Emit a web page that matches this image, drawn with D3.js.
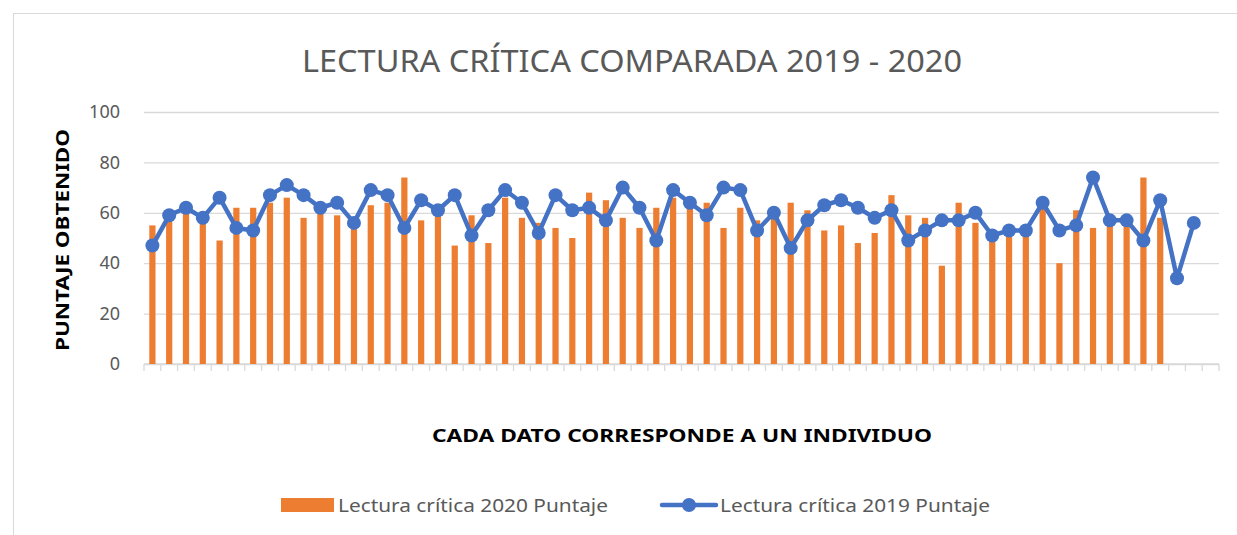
<!DOCTYPE html>
<html>
<head>
<meta charset="utf-8">
<script src="https://cdn.jsdelivr.net/npm/d3@7"></script>
<style>
  body { margin: 0; background: #fff; }
  text { font-family: 'Noto Sans', 'Open Sans', sans-serif; }
</style>
</head>
<body>
<div id="chart"></div>
<script>
// one category per individual
const individuos = [1, 2, 3, 4, 5, 6, 7, 8, 9, 10, 11, 12, 13, 14, 15, 16, 17, 18, 19, 20,
  21, 22, 23, 24, 25, 26, 27, 28, 29, 30, 31, 32, 33, 34, 35, 36, 37, 38, 39, 40,
  41, 42, 43, 44, 45, 46, 47, 48, 49, 50, 51, 52, 53, 54, 55, 56, 57, 58, 59, 60,
  61, 62, 63, 64];

// Lectura crítica 2020 Puntaje (bars)
const puntaje2020 = [55, 57, 60, 56, 49, 62, 62, 64, 66, 58,
  63, 59, 55, 63, 64, 74, 57, 60, 47, 59,
  48, 66, 58, 56, 54, 50, 68, 65, 58, 54,
  62, 66, 62, 64, 54, 62, 57, 58, 64, 61,
  53, 55, 48, 52, 67, 59, 58, 39, 64, 56,
  50, 51, 51, 62, 40, 61, 54, 56, 57, 74,
  58, null, null, null];

// Lectura crítica 2019 Puntaje (line)
const puntaje2019 = [47, 59, 62, 58, 66, 54, 53, 67, 71, 67,
  62, 64, 56, 69, 67, 54, 65, 61, 67, 51,
  61, 69, 64, 52, 67, 61, 62, 57, 70, 62,
  49, 69, 64, 59, 70, 69, 53, 60, 46, 57,
  63, 65, 62, 58, 61, 49, 53, 57, 57, 60,
  51, 53, 53, 64, 53, 55, 74, 57, 57, 49,
  65, 34, 56, null];

const yTicks = [0, 20, 40, 60, 80, 100];

const W = 1237, H = 535;
const plot = { left: 144, right: 1219, top: 112, bottom: 364 };
const orange = '#ED7D31', blue = '#4472C4', grid = '#D9D9D9', txt = '#595959';

const svg = d3.select('#chart').append('svg')
  .attr('width', W)
  .attr('height', H);

// chart area border
svg.append('rect')
  .attr('x', 13.5).attr('y', 13.5)
  .attr('width', W).attr('height', H)
  .attr('fill', 'none')
  .attr('stroke', grid);

const x = d3.scaleBand().domain(individuos).range([plot.left, plot.right]).padding(0);
const y = d3.scaleLinear().domain([0, 100]).range([plot.bottom, plot.top]);

// gridlines + y labels
const yAxis = svg.append('g')
  .attr('transform', `translate(${plot.left},0)`)
  .call(d3.axisLeft(y).tickValues(yTicks).tickSize(0).tickPadding(24))
  .call(g => g.select('.domain').remove())
  .call(g => g.selectAll('.tick text')
    .attr('fill', txt)
    .attr('font-size', 18)
    .attr('font-family', "'Noto Sans', sans-serif"));

yAxis.selectAll('.tick line').clone()
  .attr('x2', plot.right - plot.left)
  .attr('stroke', grid)
  .attr('stroke-width', 1.3);

// x axis line with ticks between categories
const bounds = individuos.map(d => x(d)).concat([plot.right]);
svg.append('line')
  .attr('x1', plot.left).attr('x2', plot.right)
  .attr('y1', y(0)).attr('y2', y(0))
  .attr('stroke', grid).attr('stroke-width', 1.3);
svg.append('g').selectAll('line').data(bounds).join('line')
  .attr('x1', d => d).attr('x2', d => d)
  .attr('y1', y(0)).attr('y2', y(0) + 7)
  .attr('stroke', grid).attr('stroke-width', 1.3);

// bars
const barW = x.bandwidth() * 0.37;
svg.append('g').selectAll('rect')
  .data(individuos.map((d, i) => ({ d, v: puntaje2020[i] })).filter(p => p.v != null))
  .join('rect')
  .attr('x', p => x(p.d) + x.bandwidth() / 2 - barW / 2)
  .attr('y', p => y(p.v))
  .attr('width', barW)
  .attr('height', p => y(0) - y(p.v))
  .attr('fill', orange);

// line + markers
const pts = individuos.map((d, i) => ({ d, v: puntaje2019[i] })).filter(p => p.v != null);
const line = d3.line()
  .x(p => x(p.d) + x.bandwidth() / 2)
  .y(p => y(p.v));

svg.append('path')
  .datum(pts)
  .attr('fill', 'none')
  .attr('stroke', blue)
  .attr('stroke-width', 4.5)
  .attr('stroke-linejoin', 'round')
  .attr('stroke-linecap', 'round')
  .attr('d', line);

svg.append('g').selectAll('circle').data(pts).join('circle')
  .attr('cx', p => x(p.d) + x.bandwidth() / 2)
  .attr('cy', p => y(p.v))
  .attr('r', 7)
  .attr('fill', blue);

// title
svg.append('text')
  .attr('x', 632).attr('y', 72)
  .attr('text-anchor', 'middle')
  .attr('fill', txt)
  .attr('font-size', 30)
  .attr('textLength', 660)
  .attr('lengthAdjust', 'spacingAndGlyphs')
  .text('LECTURA CRÍTICA COMPARADA 2019 - 2020');

// axis titles
svg.append('text')
  .attr('transform', 'translate(69,240) rotate(-90)')
  .attr('text-anchor', 'middle')
  .attr('font-weight', 'bold')
  .attr('font-size', 18)
  .attr('fill', '#000')
  .attr('textLength', 222)
  .attr('lengthAdjust', 'spacingAndGlyphs')
  .text('PUNTAJE OBTENIDO');

svg.append('text')
  .attr('x', 682).attr('y', 442)
  .attr('text-anchor', 'middle')
  .attr('font-weight', 'bold')
  .attr('font-size', 18)
  .attr('fill', '#000')
  .attr('textLength', 500)
  .attr('lengthAdjust', 'spacingAndGlyphs')
  .text('CADA DATO CORRESPONDE A UN INDIVIDUO');

// legend
const legend = svg.append('g');
legend.append('rect')
  .attr('x', 281).attr('y', 498)
  .attr('width', 53).attr('height', 14)
  .attr('fill', orange);
legend.append('text')
  .attr('x', 338).attr('y', 512)
  .attr('fill', txt)
  .attr('font-size', 18)
  .attr('textLength', 270)
  .attr('lengthAdjust', 'spacingAndGlyphs')
  .text('Lectura crítica 2020 Puntaje');

legend.append('line')
  .attr('x1', 662).attr('x2', 716)
  .attr('y1', 505).attr('y2', 505)
  .attr('stroke', blue).attr('stroke-width', 4.5)
  .attr('stroke-linecap', 'round');
legend.append('circle')
  .attr('cx', 689).attr('cy', 505).attr('r', 7)
  .attr('fill', blue);
legend.append('text')
  .attr('x', 720).attr('y', 512)
  .attr('fill', txt)
  .attr('font-size', 18)
  .attr('textLength', 270)
  .attr('lengthAdjust', 'spacingAndGlyphs')
  .text('Lectura crítica 2019 Puntaje');
</script>
</body>
</html>
